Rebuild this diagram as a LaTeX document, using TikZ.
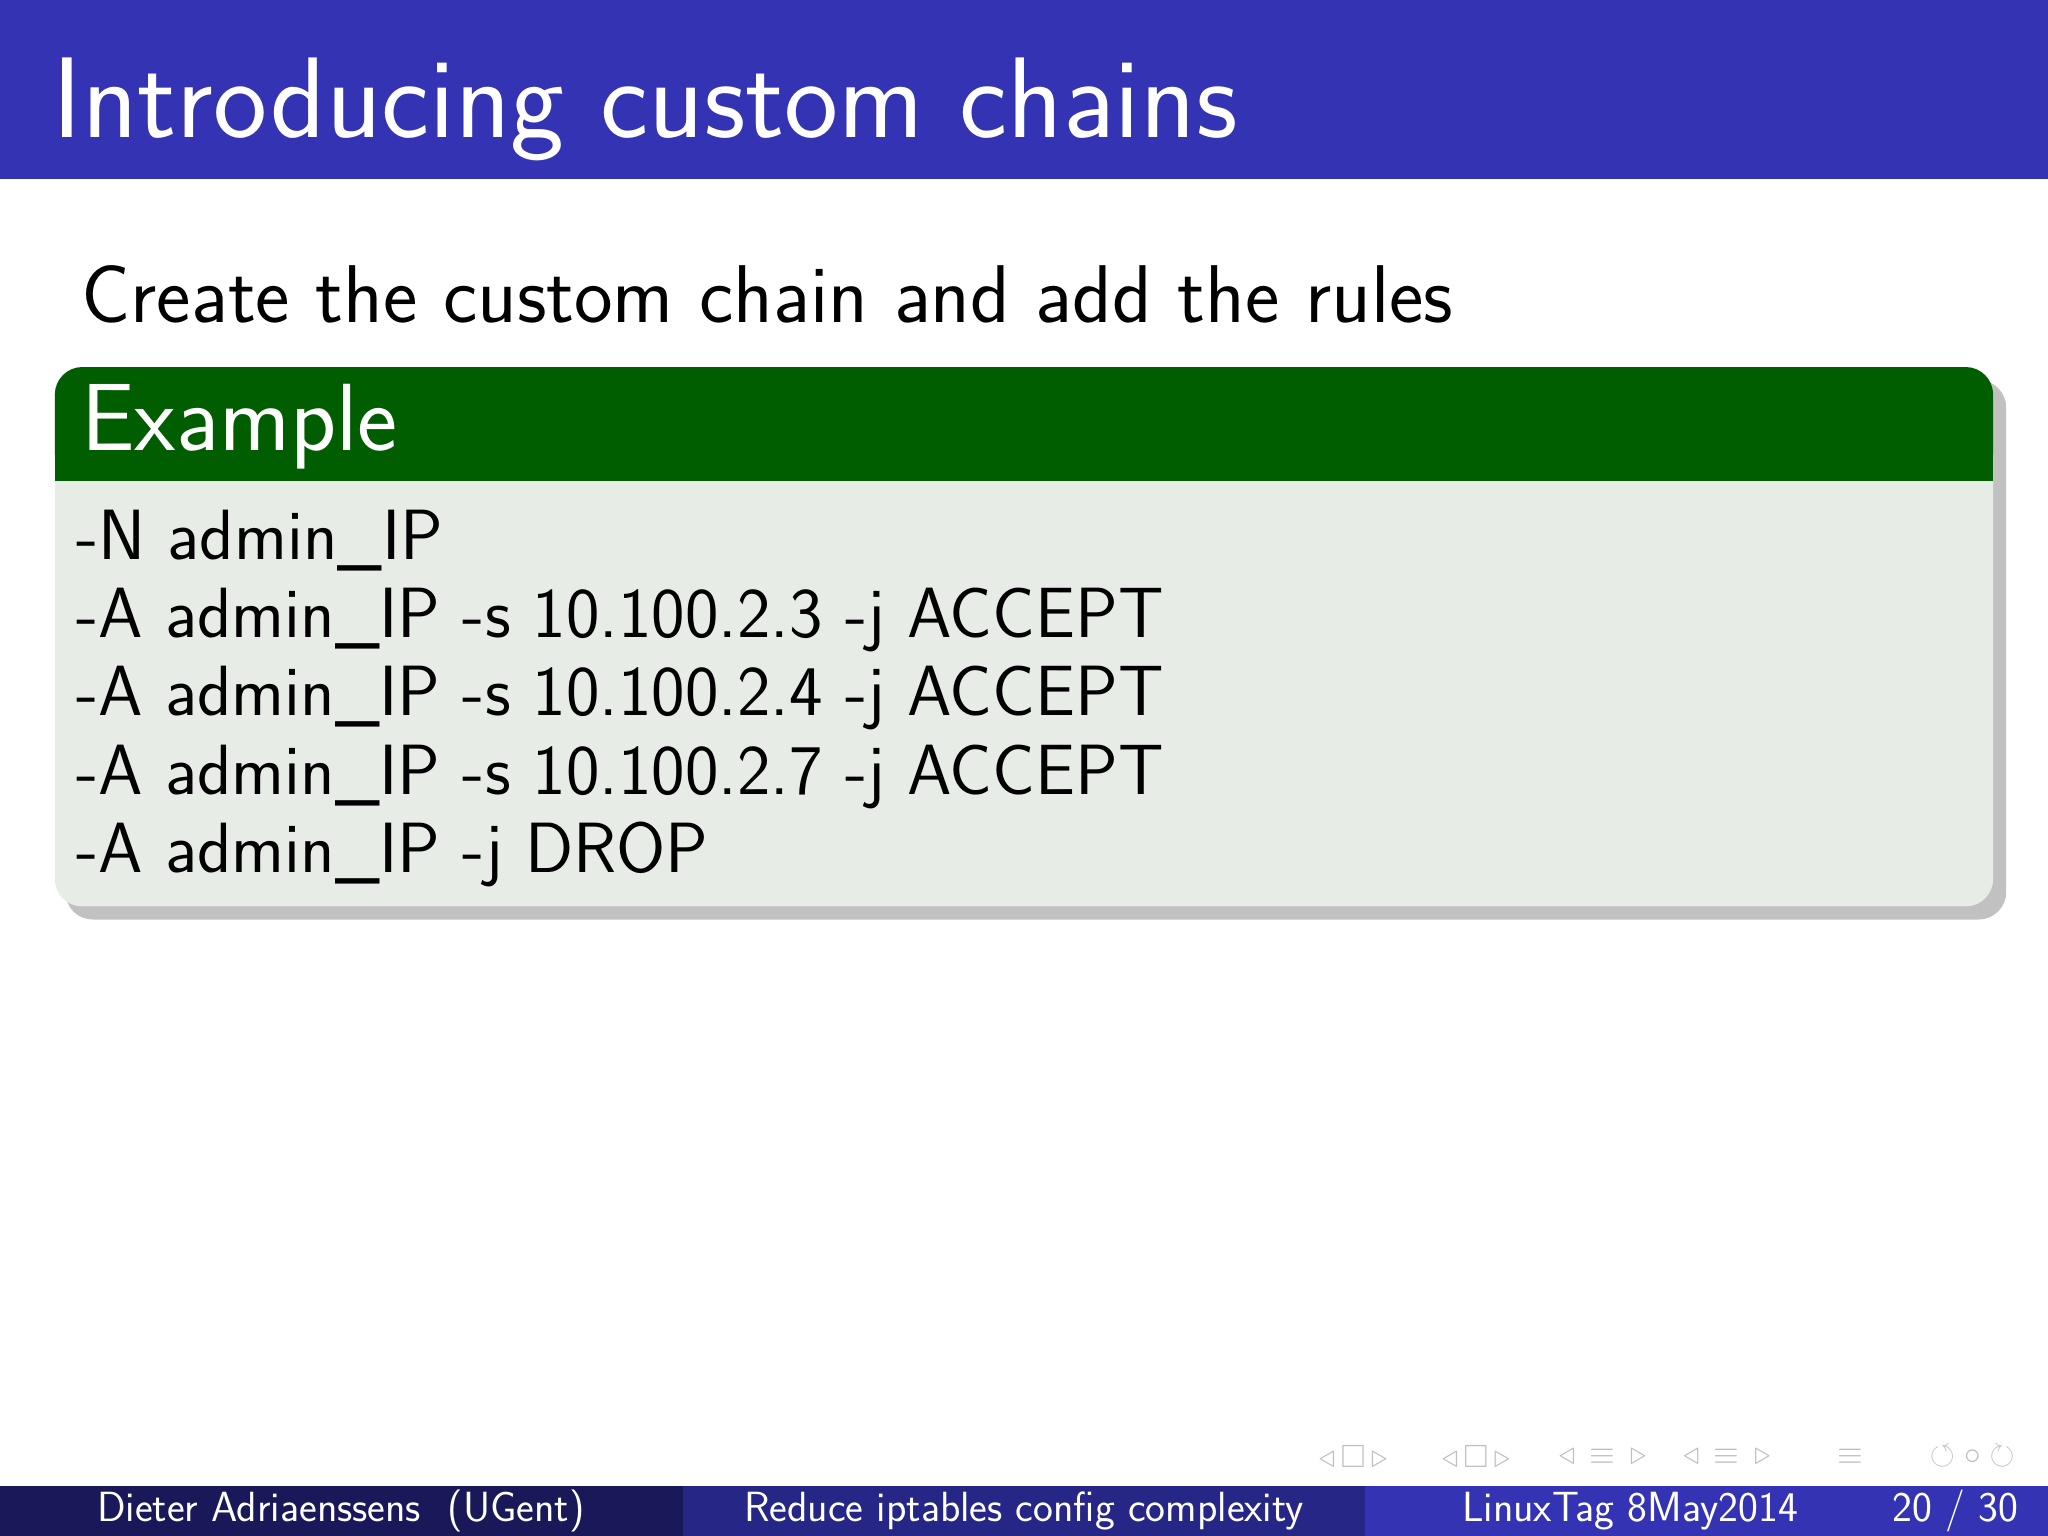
\documentclass[tikz,border=0pt]{standalone}
\usepackage{amssymb}
\renewcommand{\familydefault}{\sfdefault}
\usetikzlibrary{shadows}
\definecolor{hdr}{RGB}{51,51,179}
\definecolor{grn}{RGB}{0,94,0}
\definecolor{bodyc}{RGB}{231,236,231}
\definecolor{f1}{RGB}{25,25,90}
\definecolor{f2}{RGB}{38,38,134}
\tikzset{
  code/.style={anchor=base west,font=\fontsize{31}{34}\selectfont,inner sep=0pt},
  foot/.style={anchor=base,text=white,font=\fontsize{18.4}{20}\selectfont,inner sep=0pt},
  nav/.style={text=gray!50,font=\fontsize{14}{14}\selectfont,inner sep=0pt}
}
\begin{document}
\begin{tikzpicture}[x=0.02cm,y=-0.02cm]
\useasboundingbox (0,0) rectangle (1568,1176);
\fill[white] (0,0) rectangle (1568,1176);
\fill[hdr] (0,0) rectangle (1568,137);
\node[anchor=base west,inner sep=0pt,text=white,font=\fontsize{50}{52}\selectfont] (title) at (40,105) {Introducing custom chains};
\node[anchor=base west,inner sep=0pt,font=\fontsize{35.7}{38}\selectfont] (sub) at (62,247) {Create the custom chain and add the rules};
% block
\fill[black!40,opacity=0.6,rounded corners=12] (50,291) rectangle (1536,704);
\fill[bodyc,rounded corners=12] (42,281) rectangle (1526,694);
\fill[grn,rounded corners=12] (42,281) rectangle (1526,368);
\fill[grn] (42,330) rectangle (1526,368);
\fill[bodyc] (42,368) rectangle (1526,400);
\node[anchor=base west,inner sep=0pt,text=white,font=\fontsize{41.6}{44}\selectfont] (ex) at (62,345) {Example};
\node[code] (l1) at (58,428) {-N admin\_IP};
\node[code] (l2) at (58,488) {-A admin\_IP -s 10.100.2.3 -j ACCEPT};
\node[code] (l3) at (58,548) {-A admin\_IP -s 10.100.2.4 -j ACCEPT};
\node[code] (l4) at (58,608) {-A admin\_IP -s 10.100.2.7 -j ACCEPT};
\node[code] (l5) at (58,668) {-A admin\_IP -j DROP};
% nav
\node[nav] (n1) at (1036,1115) {$\triangleleft\,\square\,\triangleright$};
\node[nav] (n2) at (1130,1115) {$\triangleleft\,\square\,\triangleright$};
\node[nav] (n3) at (1227,1115) {$\triangleleft\,\equiv\,\triangleright$};
\node[nav] (n4) at (1322,1115) {$\triangleleft\,\equiv\,\triangleright$};
\node[nav] (n5) at (1417,1115) {$\equiv$};
\node[nav] (n6) at (1510,1115) {$\circlearrowleft\circ\circlearrowright$};
% footer
\fill[f1] (0,1138) rectangle (523,1176);
\fill[f2] (523,1138) rectangle (1045,1176);
\fill[hdr] (1045,1138) rectangle (1568,1176);
\node[foot] (fa) at (261,1165) {Dieter Adriaenssens\ \ (UGent)};
\node[foot] (fb) at (784,1165) {Reduce iptables config complexity};
\node[foot] (fc) at (1248,1165) {LinuxTag 8May2014};
\node[foot] (fd) at (1497,1165) {20 / 30};
\end{tikzpicture}
\end{document}
